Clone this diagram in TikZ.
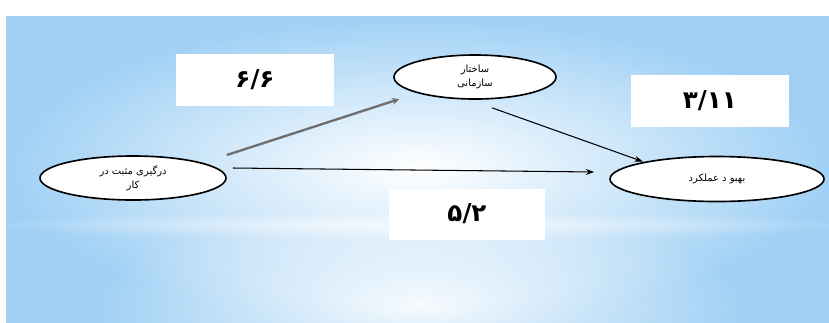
\documentclass[tikz,border=0pt]{standalone}
\usepackage{fontspec}
\TeXXeTstate=1
\newfontfamily\arabicfont[Script=Arabic]{DejaVu Sans}
\newfontfamily\numfont{DejaVu Sans}
\usetikzlibrary{shapes.geometric,arrows.meta,calc,fadings}
\definecolor{bgblue}{RGB}{160,208,245}
\definecolor{arrgray}{RGB}{110,110,110}
\tikzfading[name=softglow, inner color=transparent!0, outer color=transparent!100]
\begin{document}
\begin{tikzpicture}[x=0.03cm,y=-0.03cm,
  oval/.style={ellipse,draw=black,line width=1.4pt,fill=white,inner sep=0pt,
    font=\arabicfont\fontsize{8.5}{12}\selectfont,align=center},
  valbox/.style={rectangle,fill=white,inner sep=0pt,
    font=\numfont\bfseries\fontsize{21}{24}\selectfont},
  conn/.style={line width=0.9pt,-{Stealth[length=7pt,width=5pt]}}]
\useasboundingbox (0,0) rectangle (829,322);
\fill[white] (0,0) rectangle (829,322);
\fill[bgblue] (6,16) rectangle (829,322);
\shade[inner color=white,outer color=bgblue] (6,16) rectangle (829,322);
\begin{scope}
\clip (6,16) rectangle (829,322);
\fill[white,opacity=0.9,path fading=softglow] (420,305) ellipse [x radius=330, y radius=100];
\fill[white,opacity=0.6,path fading=softglow] (420,225) ellipse [x radius=450, y radius=14];
\end{scope}
% boxes
\node[valbox,minimum width=158*0.03cm,minimum height=52*0.03cm] (b1) at (255,80) {۶/۶};
\node[valbox,minimum width=158*0.03cm,minimum height=52*0.03cm] (b2) at (710,101) {۳/۱۱};
\node[valbox,minimum width=156*0.03cm,minimum height=51*0.03cm] (b3) at (467,214) {۵/۲};
% ovals
\node[oval,minimum width=186*0.03cm,minimum height=44*0.03cm] (L) at (133,178) {\beginR درگیری مثبت در\endR\\\beginR کار\endR};
\node[oval,minimum width=162*0.03cm,minimum height=44*0.03cm] (T) at (475,77) {\beginR ساختار\endR\\\beginR سازمانی\endR};
\node[oval,minimum width=214*0.03cm,minimum height=45*0.03cm] (R) at (717,179) {\beginR بهبو د عملکرد\endR};
% connectors
\draw[conn,draw=arrgray,line width=2pt,-{Stealth[length=6pt,width=6pt]}] ([shift={(0,-23)}]L.east) -- ([shift={(-18,6)}]T.south west);
\draw[conn] ([shift={(6,-10)}]L.east) -- ([shift={(-15,-7)}]R.west);
\draw[conn] ([shift={(17,8)}]T.south) -- ([shift={(2,-1)}]R.north west);
\end{tikzpicture}
\end{document}
